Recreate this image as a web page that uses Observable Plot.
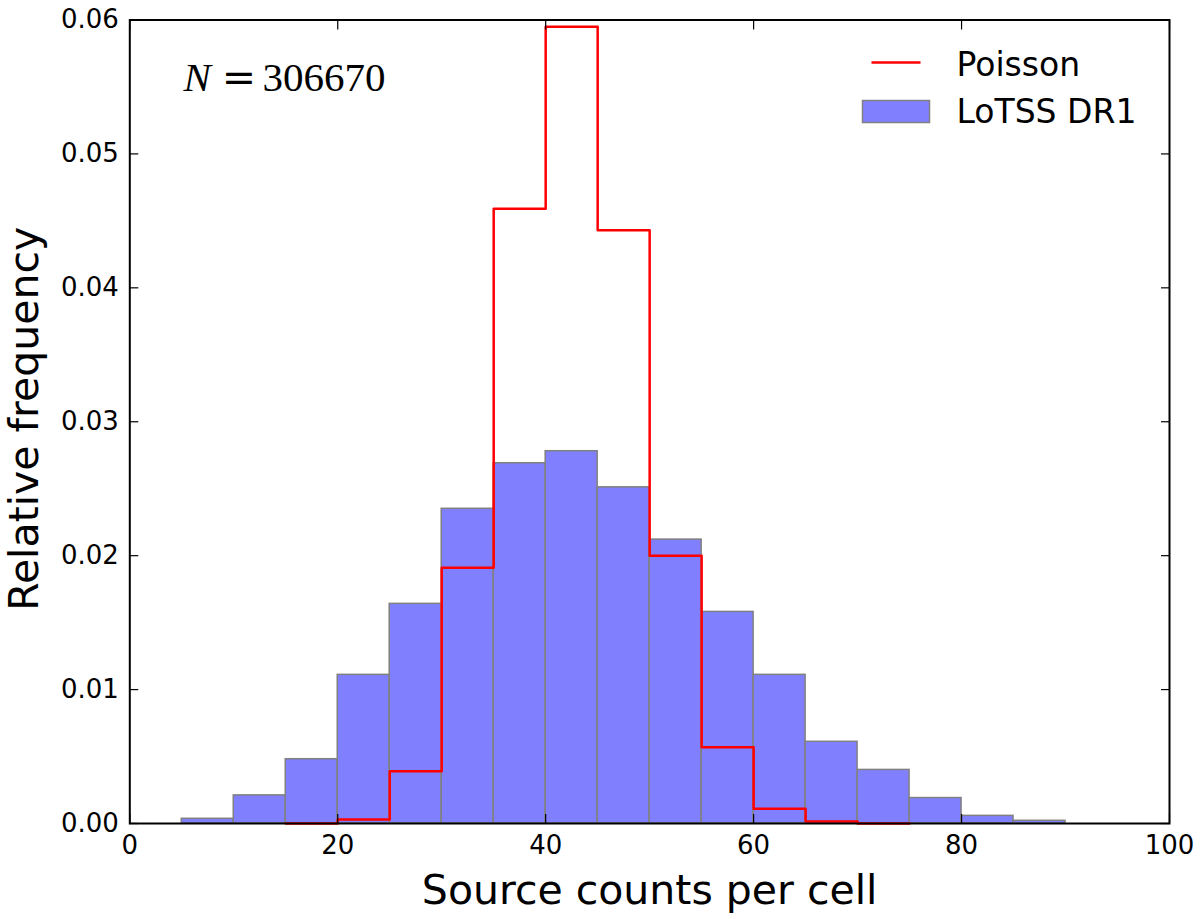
<!DOCTYPE html>
<html>
<head>
<meta charset="utf-8">
<script src="https://cdn.jsdelivr.net/npm/d3@7"></script>
<script src="https://cdn.jsdelivr.net/npm/@observablehq/plot@0.6"></script>
<style>
  body { margin: 0; background: #fff; }
</style>
</head>
<body>
<div id="chart"></div>
<script>
// histogram bins are 5 wide, keyed by left edge
const binWidth = 5
const lotssBins = [5, 10, 15, 20, 25, 30, 35, 40, 45, 50, 55, 60, 65, 70, 75, 80, 85]
const lotssFreq = [0.00035, 0.0021, 0.0048, 0.0111, 0.0164, 0.0235, 0.0269, 0.0278, 0.0251, 0.0212, 0.0158, 0.0111, 0.0061, 0.0040, 0.0019, 0.00057, 0.0002]
const poissonBins = [15, 20, 25, 30, 35, 40, 45, 50, 55, 60, 65, 70]
const poissonFreq = [0, 0.0003, 0.0039, 0.0191, 0.0459, 0.0595, 0.0443, 0.0200, 0.0057, 0.0011, 0.00015, 0]
const xTicks = [0, 20, 40, 60, 80, 100]
const yTicks = [0, 0.01, 0.02, 0.03, 0.04, 0.05, 0.06]
const legendLabels = ['Poisson', 'LoTSS DR1']
const nSources = '306670'

const lotss = lotssBins.map((x, i) => ({x1: x, x2: x + binWidth, y: lotssFreq[i]}))
// step outline, closed back down to the baseline at the last edge
const poisson = poissonBins.map((x, i) => ({x: x, y: poissonFreq[i]}))
poisson.push({x: poissonBins[poissonBins.length - 1] + binWidth, y: 0})

const blue = '#8080ff'
const edge = '#808080'

// legend swatches as custom dot symbols
const lineSwatch = {draw(ctx) { ctx.moveTo(-24.5, 0); ctx.lineTo(24.5, 0) }}
const patchSwatch = {draw(ctx) { ctx.rect(-33.5, -11, 67, 22) }}

const mLeft = 129.3, mTop = 19.5

let chart = Plot.plot({
  width: 1200,
  height: 919,
  marginLeft: mLeft,
  marginRight: 31,
  marginTop: mTop,
  marginBottom: 96,
  style: {fontFamily: 'DejaVu Sans', background: 'white', color: 'black'},
  x: {domain: [0, 100]},
  y: {domain: [0, 0.06]},
  marks: [
    Plot.rectY(lotss, {x1: 'x1', x2: 'x2', y: 'y', fill: blue, stroke: edge, strokeWidth: 1.5}),
    Plot.line(poisson, {x: 'x', y: 'y', curve: 'step-after', stroke: 'red', strokeWidth: 2.5}),

    Plot.axisX(xTicks, {anchor: 'bottom', tickSize: -9, tickPadding: 21.5, fontSize: 26, label: null, strokeWidth: 1.2}),
    Plot.axisX(xTicks, {anchor: 'top', tickSize: -9, tickFormat: () => '', label: null, strokeWidth: 1.2}),
    Plot.axisY(yTicks, {anchor: 'left', tickSize: -9, tickPadding: 20, fontSize: 26, tickFormat: '.2f', label: null, strokeWidth: 1.2}),
    Plot.axisY(yTicks, {anchor: 'right', tickSize: -9, tickFormat: () => '', label: null, strokeWidth: 1.2}),
    Plot.frame({stroke: 'black', strokeWidth: 2}),

    Plot.text(['Source counts per cell'], {frameAnchor: 'bottom', lineAnchor: 'bottom', dy: 80, fontSize: 41}),
    Plot.text(['Relative frequency'], {frameAnchor: 'left', rotate: -90, textAnchor: 'middle', lineAnchor: 'bottom', dx: -92, dy: -3, fontSize: 41}),

    // N = ... annotation
    Plot.text(['N'], {frameAnchor: 'top-left', textAnchor: 'start', lineAnchor: 'bottom', dx: 183 - mLeft, dy: 90 - mTop,
      fontSize: 41, fontFamily: 'Liberation Serif', fontStyle: 'italic'}),
    Plot.text(['='], {frameAnchor: 'top-left', textAnchor: 'middle', lineAnchor: 'bottom', dx: 238.5 - mLeft, dy: 90 - mTop,
      fontSize: 41, fontFamily: 'DejaVu Serif'}),
    Plot.text([nSources], {frameAnchor: 'top-left', textAnchor: 'start', lineAnchor: 'bottom', dx: 262 - mLeft, dy: 90 - mTop,
      fontSize: 41, fontFamily: 'Liberation Serif'}),

    // legend
    Plot.dot([legendLabels[0]], {frameAnchor: 'top-left', dx: 895.5 - mLeft, dy: 62 - mTop, symbol: lineSwatch, r: 10, fill: 'none', stroke: 'red', strokeWidth: 2.5}),
    Plot.dot([legendLabels[1]], {frameAnchor: 'top-left', dx: 895.5 - mLeft, dy: 111 - mTop, symbol: patchSwatch, r: 10, fill: blue, stroke: edge, strokeWidth: 1.5}),
    Plot.text([legendLabels[0]], {frameAnchor: 'top-left', textAnchor: 'start', lineAnchor: 'bottom', dx: 956 - mLeft, dy: 75 - mTop, fontSize: 33}),
    Plot.text([legendLabels[1]], {frameAnchor: 'top-left', textAnchor: 'start', lineAnchor: 'bottom', dx: 956 - mLeft, dy: 122 - mTop, fontSize: 33}),
  ],
})

d3.select('#chart').append(() => chart)
</script>
</body>
</html>
